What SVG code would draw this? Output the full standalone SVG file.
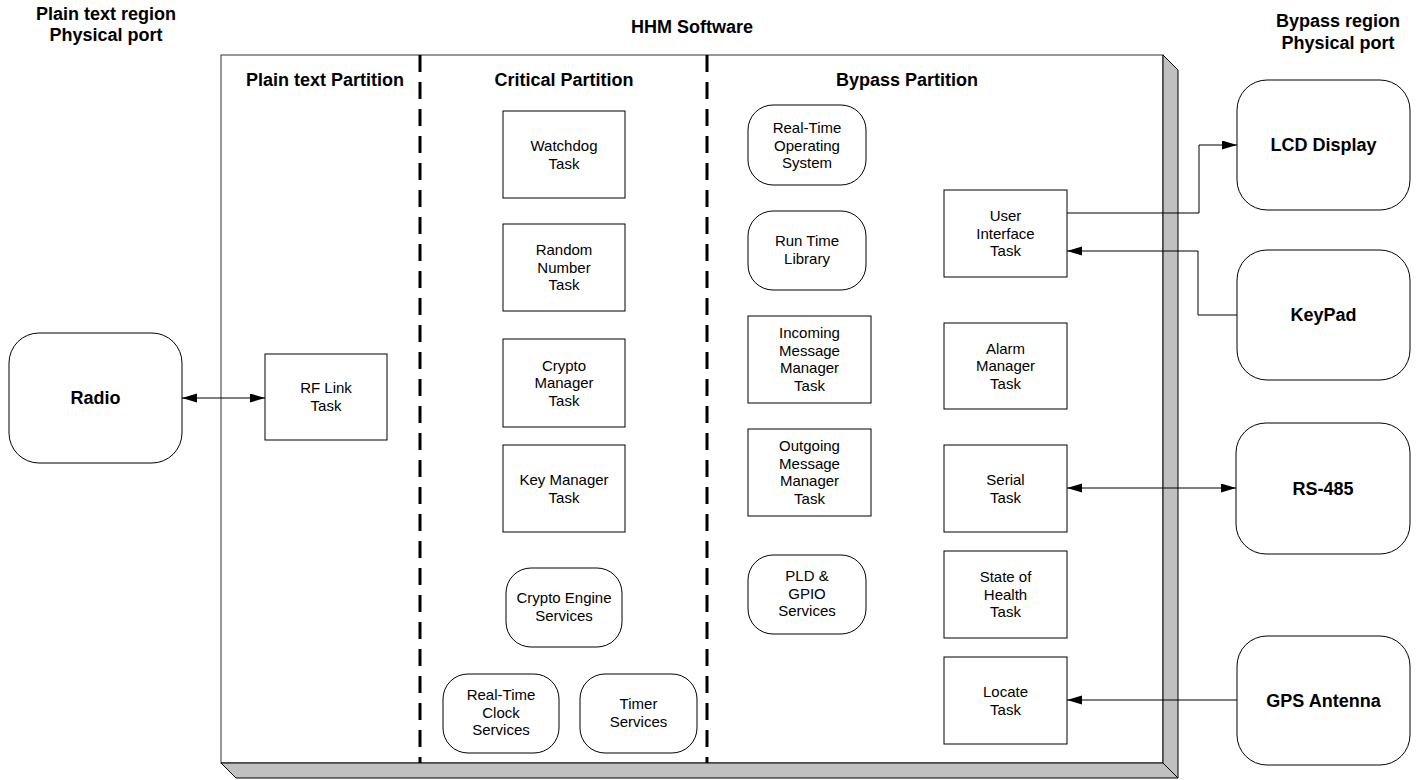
<svg xmlns="http://www.w3.org/2000/svg" width="1416" height="780" viewBox="0 0 1416 780">
  <style>
    text { font-family: "Liberation Sans", Arial, sans-serif; fill: #000; text-anchor: middle; }
    .title { font-size: 18px; font-weight: bold; }
    .lbl { font-size: 15px; }
    .big { font-size: 18px; font-weight: bold; }
    .box { fill: #fff; stroke: #000; stroke-width: 1; }
    .conn { fill: none; stroke: #000; stroke-width: 1; }
    .sep { stroke: #000; stroke-width: 3; stroke-dasharray: 17 10; fill: none; }
    .face { fill: #c0c0c0; stroke: #000; stroke-width: 1; stroke-linejoin: miter; }
  </style>
  <defs>
    <marker id="arrow" markerUnits="userSpaceOnUse" markerWidth="16" markerHeight="10" refX="15" refY="4.5" orient="auto-start-reverse">
      <path d="M0,0 L15,4.5 L0,9 z" fill="#000"/>
    </marker>
  </defs>

  <rect width="1416" height="780" fill="#fff"/>

  <!-- Region headings -->
  <g id="headings">
    <text class="title" x="106" y="20">Plain text region</text>
    <text class="title" x="106" y="41">Physical port</text>
    <text class="title" x="692" y="33">HHM Software</text>
    <text class="title" x="1338" y="27">Bypass region</text>
    <text class="title" x="1338" y="49">Physical port</text>
  </g>

  <!-- Software block drawn as a slab with depth -->
  <g id="hhm-software">
    <rect x="221" y="55" width="942" height="708" fill="#fff" stroke="#333" stroke-width="1"/>
    <polygon class="face" points="1163,55 1178,70 1178,778 1163,763"/>
    <polygon class="face" points="221,763 1163,763 1178,778 236,778"/>
    <line class="sep" x1="420" y1="55" x2="420" y2="763"/>
    <line class="sep" x1="707" y1="55" x2="707" y2="763"/>
    <text class="title" x="325" y="86">Plain text Partition</text>
    <text class="title" x="564" y="86">Critical Partition</text>
    <text class="title" x="907" y="86">Bypass Partition</text>
  </g>

  <!-- Plain text partition -->
  <g id="rf-link-task">
    <rect class="box" x="265" y="354" width="122" height="86"/>
    <text class="lbl" x="326" y="393">RF Link</text>
    <text class="lbl" x="326" y="410.5">Task</text>
  </g>

  <!-- Critical partition -->
  <g id="watchdog-task">
    <rect class="box" x="503" y="111" width="122" height="87"/>
    <text class="lbl" x="564" y="151">Watchdog</text>
    <text class="lbl" x="564" y="168.5">Task</text>
  </g>
  <g id="random-number-task">
    <rect class="box" x="503" y="224" width="122" height="87"/>
    <text class="lbl" x="564" y="255">Random</text>
    <text class="lbl" x="564" y="272.5">Number</text>
    <text class="lbl" x="564" y="290">Task</text>
  </g>
  <g id="crypto-manager-task">
    <rect class="box" x="503" y="339" width="122" height="88"/>
    <text class="lbl" x="564" y="370.5">Crypto</text>
    <text class="lbl" x="564" y="388">Manager</text>
    <text class="lbl" x="564" y="405.5">Task</text>
  </g>
  <g id="key-manager-task">
    <rect class="box" x="503" y="445" width="122" height="87"/>
    <text class="lbl" x="564" y="485">Key Manager</text>
    <text class="lbl" x="564" y="502.5">Task</text>
  </g>
  <g id="crypto-engine-services">
    <rect class="box" x="506" y="568" width="116" height="79" rx="25"/>
    <text class="lbl" x="564" y="603">Crypto Engine</text>
    <text class="lbl" x="564" y="620.5">Services</text>
  </g>
  <g id="real-time-clock-services">
    <rect class="box" x="443" y="674" width="116" height="79" rx="25"/>
    <text class="lbl" x="501" y="700">Real-Time</text>
    <text class="lbl" x="501" y="717.5">Clock</text>
    <text class="lbl" x="501" y="735">Services</text>
  </g>
  <g id="timer-services">
    <rect class="box" x="580" y="674" width="117" height="79" rx="25"/>
    <text class="lbl" x="638.5" y="709">Timer</text>
    <text class="lbl" x="638.5" y="726.5">Services</text>
  </g>

  <!-- Bypass partition -->
  <g id="rtos">
    <rect class="box" x="748" y="105" width="118" height="80" rx="25"/>
    <text class="lbl" x="807" y="133">Real-Time</text>
    <text class="lbl" x="807" y="150.5">Operating</text>
    <text class="lbl" x="807" y="168">System</text>
  </g>
  <g id="run-time-library">
    <rect class="box" x="748" y="211" width="118" height="79" rx="25"/>
    <text class="lbl" x="807" y="246">Run Time</text>
    <text class="lbl" x="807" y="263.5">Library</text>
  </g>
  <g id="incoming-message-manager-task">
    <rect class="box" x="748" y="316" width="123" height="87"/>
    <text class="lbl" x="809.5" y="338">Incoming</text>
    <text class="lbl" x="809.5" y="355.5">Message</text>
    <text class="lbl" x="809.5" y="373">Manager</text>
    <text class="lbl" x="809.5" y="390.5">Task</text>
  </g>
  <g id="outgoing-message-manager-task">
    <rect class="box" x="748" y="429" width="123" height="87"/>
    <text class="lbl" x="809.5" y="451">Outgoing</text>
    <text class="lbl" x="809.5" y="468.5">Message</text>
    <text class="lbl" x="809.5" y="486">Manager</text>
    <text class="lbl" x="809.5" y="503.5">Task</text>
  </g>
  <g id="pld-gpio-services">
    <rect class="box" x="748" y="555" width="118" height="79" rx="25"/>
    <text class="lbl" x="807" y="581">PLD &amp;</text>
    <text class="lbl" x="807" y="598.5">GPIO</text>
    <text class="lbl" x="807" y="616">Services</text>
  </g>
  <g id="user-interface-task">
    <rect class="box" x="944" y="190" width="123" height="87"/>
    <text class="lbl" x="1005.5" y="221">User</text>
    <text class="lbl" x="1005.5" y="238.5">Interface</text>
    <text class="lbl" x="1005.5" y="256">Task</text>
  </g>
  <g id="alarm-manager-task">
    <rect class="box" x="944" y="323" width="123" height="86"/>
    <text class="lbl" x="1005.5" y="353.5">Alarm</text>
    <text class="lbl" x="1005.5" y="371">Manager</text>
    <text class="lbl" x="1005.5" y="388.5">Task</text>
  </g>
  <g id="serial-task">
    <rect class="box" x="944" y="445" width="123" height="87"/>
    <text class="lbl" x="1005.5" y="485">Serial</text>
    <text class="lbl" x="1005.5" y="502.5">Task</text>
  </g>
  <g id="state-of-health-task">
    <rect class="box" x="944" y="551" width="123" height="87"/>
    <text class="lbl" x="1005.5" y="582">State of</text>
    <text class="lbl" x="1005.5" y="599.5">Health</text>
    <text class="lbl" x="1005.5" y="617">Task</text>
  </g>
  <g id="locate-task">
    <rect class="box" x="944" y="657" width="123" height="87"/>
    <text class="lbl" x="1005.5" y="697">Locate</text>
    <text class="lbl" x="1005.5" y="714.5">Task</text>
  </g>

  <!-- Physical ports -->
  <g id="radio">
    <rect class="box" x="9" y="333" width="173" height="130" rx="30"/>
    <text class="big" x="95.5" y="404">Radio</text>
  </g>
  <g id="lcd-display">
    <rect class="box" x="1237" y="80" width="173" height="130" rx="30"/>
    <text class="big" x="1323.5" y="151">LCD Display</text>
  </g>
  <g id="keypad">
    <rect class="box" x="1237" y="250" width="173" height="130" rx="30"/>
    <text class="big" x="1323.5" y="321">KeyPad</text>
  </g>
  <g id="rs-485">
    <rect class="box" x="1236" y="423" width="174" height="131" rx="30"/>
    <text class="big" x="1323" y="494.5">RS-485</text>
  </g>
  <g id="gps-antenna">
    <rect class="box" x="1237" y="636" width="173" height="129" rx="30"/>
    <text class="big" x="1323.5" y="706.5">GPS Antenna</text>
  </g>

  <!-- Connectors -->
  <g id="connectors">
    <line class="conn" x1="182" y1="398" x2="265" y2="398" marker-start="url(#arrow)" marker-end="url(#arrow)"/>
    <polyline class="conn" points="1067,213 1199,213 1199,145 1237,145" marker-end="url(#arrow)"/>
    <polyline class="conn" points="1237,315 1198,315 1198,251 1067,251" marker-end="url(#arrow)"/>
    <line class="conn" x1="1067" y1="488" x2="1236" y2="488" marker-start="url(#arrow)" marker-end="url(#arrow)"/>
    <line class="conn" x1="1237" y1="700" x2="1067" y2="700" marker-end="url(#arrow)"/>
  </g>
</svg>
